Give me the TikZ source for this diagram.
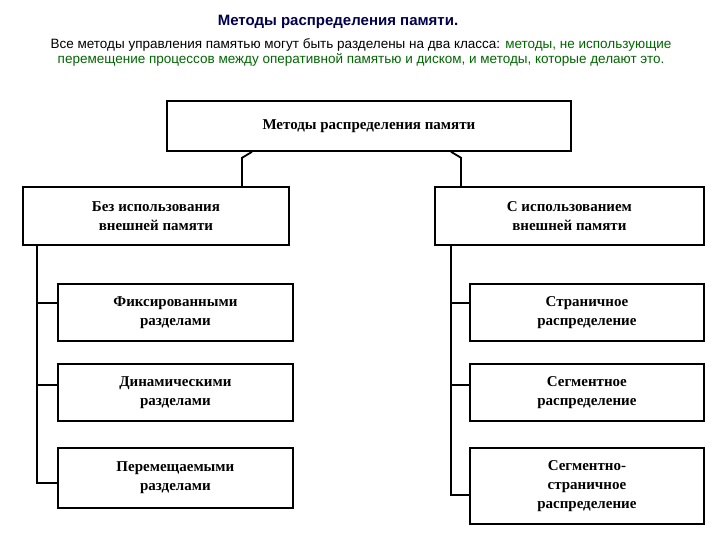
\documentclass[tikz,border=0pt]{standalone}
\usepackage{fontspec}
\setmainfont{Liberation Serif}
\newfontfamily\arialf{Liberation Sans}
\begin{document}
\begin{tikzpicture}[x=1pt,y=-1pt,
  bx/.style={draw,line width=1.8pt,inner sep=0pt,anchor=north west,align=center,font=\bfseries\fontsize{15}{19}\selectfont},
  ln/.style={line width=1.8pt}]
\useasboundingbox (0,0) rectangle (720,540);
\node[font=\arialf\bfseries\fontsize{15}{17}\selectfont,text=blue!30!black] (t) at (338,22) {Методы распределения памяти.};
\node[font=\arialf\fontsize{13.5}{15}\selectfont,align=center] (d) at (361,52) {Все методы управления памятью могут быть разделены на два класса: \textcolor{green!40!black}{методы, не использующие}\\\textcolor{green!40!black}{перемещение процессов между оперативной памятью и диском, и методы, которые делают это.}};
\node[bx,minimum width=404pt,minimum height=50pt] (top) at (166,100) {Методы распределения памяти};
\node[bx,minimum width=266pt,minimum height=58pt] (L) at (22,186) {Без использования\\внешней памяти};
\node[bx,minimum width=269pt,minimum height=58pt] (R) at (434,186) {С использованием\\внешней памяти};
\node[bx,minimum width=235pt,minimum height=57pt] (L1) at (57,283) {Фиксированными\\разделами};
\node[bx,minimum width=235pt,minimum height=57pt] (L2) at (57,363) {Динамическими\\разделами};
\node[bx,minimum width=235pt,minimum height=60pt] (L3) at (57,447) {Перемещаемыми\\разделами};
\node[bx,minimum width=234pt,minimum height=57pt] (R1) at (469,283) {Страничное\\распределение};
\node[bx,minimum width=234pt,minimum height=57pt] (R2) at (469,363) {Сегментное\\распределение};
\node[bx,minimum width=234pt,minimum height=76pt] (R3) at (469,447) {Сегментно-\\страничное\\распределение};
\draw[ln] (top.south west) ++(86,0) -- ++(-10,6) -- ++(0,30);
\draw[ln] (top.south west) ++(285,0) -- ++(10,6) -- ++(0,30);
\coordinate (lb) at (37,483);
\coordinate (rb) at (451,495);
\draw[ln] (L.south west) ++(15,0) -- (lb) -- (L3.west |- lb);
\draw[ln] (37,303) -- (L1.west |- 0,303);
\draw[ln] (37,385) -- (L2.west |- 0,385);
\draw[ln] (R.south west) ++(17,0) -- (rb) -- (R3.west |- rb);
\draw[ln] (451,303) -- (R1.west |- 0,303);
\draw[ln] (451,385) -- (R2.west |- 0,385);
\end{tikzpicture}
\end{document}
